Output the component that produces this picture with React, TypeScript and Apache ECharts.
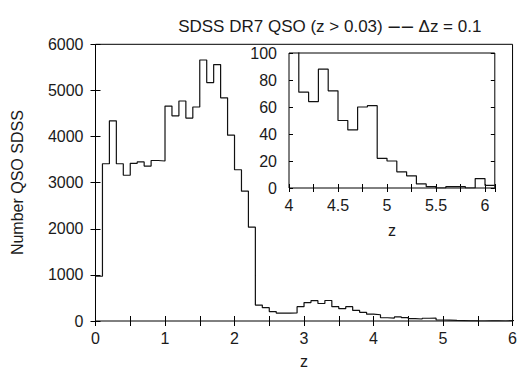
import React, { useEffect, useRef } from "react";
import * as echarts from "echarts";

// Histogram of SDSS DR7 QSO redshifts, bin width 0.1, bins starting at z = 0
const binStart = 0;
const binWidth = 0.1;
const counts = [
  970, 3410, 4340, 3410, 3160, 3420, 3450, 3360, 3480, 3470,
  4660, 4450, 4770, 4400, 4640, 5660, 5170, 5560, 4840, 4030,
  3280, 2815, 2035, 345, 290, 205, 172, 172, 175, 310,
  400, 440, 380, 445, 310, 268, 310, 230, 188, 148,
  135, 71, 64, 88, 72, 50, 43, 60, 61, 22,
  20, 12, 9, 3, 1, 0, 1, 1, 0, 7,
  2,
];

const mainXTicks = [0, 1, 2, 3, 4, 5, 6];
const mainYTicks = [0, 1000, 2000, 3000, 4000, 5000, 6000];
const insetXTicks = [4, 4.5, 5, 5.5, 6];
const insetYTicks = [0, 20, 40, 60, 80, 100];

const titleLeft = "SDSS DR7 QSO (z > 0.03) ";
const titleDash = "\u2212\u2212";
const titleRight = " \u0394z = 0.1";
const yName = "Number QSO SDSS";
const xName = "z";

const FONT = "Liberation Sans, Arial, Helvetica, sans-serif";
const TXT = "#1a1a1a";
const FS = 16;

function stepPoints(minX: number) {
  const pts: [number, number][] = [];
  counts.forEach((c, i) => {
    const x = binStart + i * binWidth;
    if (x >= minX - 1e-9) pts.push([x, c]);
  });
  const last = counts.length;
  pts.push([binStart + last * binWidth, counts[last - 1]]);
  return pts;
}

function labelIn(list: number[]) {
  return (v: number) => {
    const hit = list.find((t) => Math.abs(t - v) < 1e-6);
    return hit === undefined ? "" : String(hit);
  };
}

export default function App() {
  const ref = useRef<HTMLDivElement>(null);
  useEffect(() => {
    if (!ref.current) return;
    const chart = echarts.init(ref.current, null, { renderer: "svg" });
    const tick = (len: number) => ({
      show: true,
      inside: true,
      length: len,
      lineStyle: { color: "#000", width: 1 },
    });
    const lbl = (list: number[], margin: number) => ({
      show: true,
      formatter: labelIn(list),
      fontSize: FS,
      fontFamily: FONT,
      color: TXT,
      margin,
      showMaxLabel: true,
      showMinLabel: true,
    });
    const nameStyle = { fontSize: FS, fontFamily: FONT, color: TXT };
    const main = { left: 95.5, top: 44.3, width: 419.5, height: 278.4 };
    const inset = { left: 289, top: 53, width: 205.8, height: 135 };
    chart.setOption({
      animation: false,
      backgroundColor: "#fff",
      title: {
        text: "{t|" + titleLeft + "}{d|" + titleDash + "}{t|" + titleRight + "}",
        left: 325,
        top: 10,
        textAlign: "center",
        textStyle: {
          fontSize: 17,
          fontWeight: "normal",
          fontFamily: FONT,
          color: TXT,
          rich: {
            t: { fontSize: 17, fontFamily: FONT, color: TXT },
            d: { fontSize: 23, fontFamily: FONT, color: TXT },
          },
        },
      },
      grid: [
        { ...main, show: true, borderColor: "#000", borderWidth: 1, backgroundColor: "transparent", containLabel: false },
        { ...inset, show: true, borderColor: "#000", borderWidth: 1, backgroundColor: "#fff", containLabel: false },
      ],
      xAxis: [
        {
          type: "value", gridIndex: 0, min: 0, max: 6, interval: 0.5, position: "bottom",
          axisLine: { show: false }, axisTick: tick(5), splitLine: { show: false },
          axisLabel: lbl(mainXTicks, 9),
          name: xName, nameLocation: "middle", nameGap: 32, nameTextStyle: nameStyle,
        },
        {
          type: "value", gridIndex: 0, min: 0, max: 6, interval: 0.5, position: "top",
          axisLine: { show: false }, axisTick: tick(5), splitLine: { show: false },
          axisLabel: { show: false },
        },
        {
          type: "value", gridIndex: 1, min: 4, max: 6.1, interval: 0.25, position: "bottom",
          axisLine: { show: false }, axisTick: tick(4), splitLine: { show: false },
          axisLabel: lbl(insetXTicks, 9),
          name: xName, nameLocation: "middle", nameGap: 34, nameTextStyle: nameStyle,
        },
        {
          type: "value", gridIndex: 1, min: 4, max: 6.1, interval: 0.25, position: "top",
          axisLine: { show: false }, axisTick: tick(4), splitLine: { show: false },
          axisLabel: { show: false },
        },
      ],
      yAxis: [
        {
          type: "value", gridIndex: 0, min: 0, max: 6000, interval: 1000, position: "left",
          axisLine: { show: false }, axisTick: tick(5), splitLine: { show: false },
          axisLabel: lbl(mainYTicks, 12),
          name: yName, nameLocation: "middle", nameGap: 70, nameRotate: 90, nameTextStyle: nameStyle,
        },
        {
          type: "value", gridIndex: 0, min: 0, max: 6000, interval: 1000, position: "right",
          axisLine: { show: false }, axisTick: tick(5), splitLine: { show: false },
          axisLabel: { show: false },
        },
        {
          type: "value", gridIndex: 1, min: 0, max: 100, interval: 20, position: "left",
          axisLine: { show: false }, axisTick: tick(4), splitLine: { show: false },
          axisLabel: lbl(insetYTicks, 12),
        },
        {
          type: "value", gridIndex: 1, min: 0, max: 100, interval: 20, position: "right",
          axisLine: { show: false }, axisTick: tick(4), splitLine: { show: false },
          axisLabel: { show: false },
        },
      ],
      series: [
        {
          type: "line", xAxisIndex: 0, yAxisIndex: 0, step: "end",
          symbol: "none", showSymbol: false, clip: true,
          lineStyle: { color: "#111", width: 1.2 },
          data: stepPoints(0),
          z: 3,
        },
        {
          type: "line", xAxisIndex: 2, yAxisIndex: 2, step: "end",
          symbol: "none", showSymbol: false, clip: true,
          lineStyle: { color: "#111", width: 1.2 },
          data: stepPoints(4),
          z: 4,
        },
      ],
    });
    return () => chart.dispose();
  }, []);
  return (
    <div
      ref={ref}
      style={{ position: "absolute", left: 0, top: 0, width: 520, height: 374 }}
    />
  );
}
